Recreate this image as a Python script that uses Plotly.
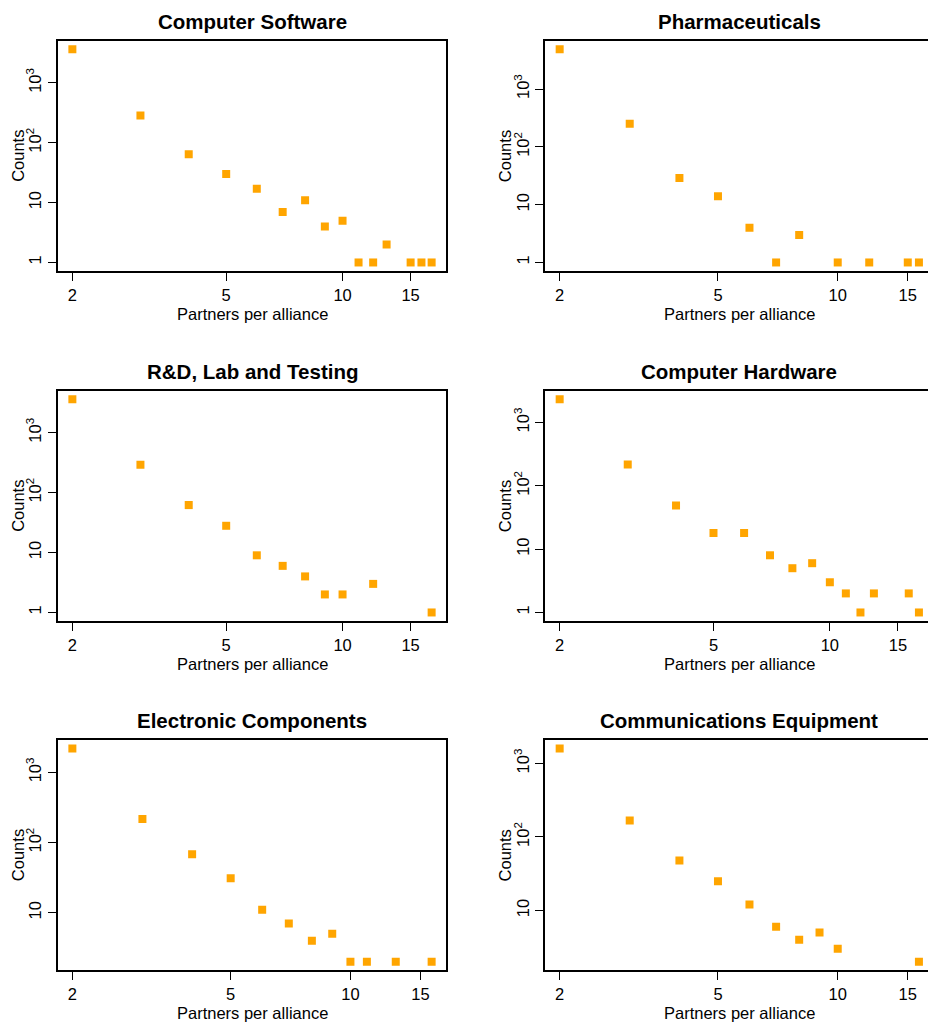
import math
import plotly.graph_objects as go

# ---- data ----
titles = ["Computer Software", "Pharmaceuticals", "R&D, Lab and Testing",
          "Computer Hardware", "Electronic Components", "Communications Equipment"]

cs_x = [2, 3, 4, 5, 6, 7, 8, 9, 10, 11, 12, 13, 15, 16, 17]
cs_y = [3650, 286, 64, 30, 17, 7, 11, 4, 5, 1, 1, 2, 1, 1, 1]

ph_x = [2, 3, 4, 5, 6, 7, 8, 10, 12, 15, 16]
ph_y = [4900, 251, 29, 14, 4, 1, 3, 1, 1, 1, 1]

rd_x = [2, 3, 4, 5, 6, 7, 8, 9, 10, 12, 17]
rd_y = [3630, 293, 62, 28, 9, 6, 4, 2, 2, 3, 1]

hw_x = [2, 3, 4, 5, 6, 7, 8, 9, 10, 11, 12, 13, 16, 17]
hw_y = [2330, 218, 49, 18, 18, 8, 5, 6, 3, 2, 1, 2, 2, 1]

ec_x = [2, 3, 4, 5, 6, 7, 8, 9, 10, 11, 13, 16]
ec_y = [2190, 217, 68, 31, 11, 7, 4, 5, 2, 2, 2, 2]

ce_x = [2, 3, 4, 5, 6, 7, 8, 9, 10, 16]
ce_y = [1600, 168, 48, 25, 12, 6, 4, 5, 3, 2]

x_tickvals = [2, 5, 10, 15]
x_ticktext = ["2", "5", "10", "15"]
y_tickvals = [1, 10, 100, 1000]
y_ticktext = ["1", "10", "10<sup>2</sup>", "10<sup>3</sup>"]

series = [(cs_x, cs_y), (ph_x, ph_y), (rd_x, rd_y),
          (hw_x, hw_y), (ec_x, ec_y), (ce_x, ce_y)]

# ---- layout geometry (pixels) ----
W, H = 928, 1023
col_box = [(58.0, 446.0), (545.3, 933.3)]
row_box = [(40.7, 271.0), (390.7, 621.0), (740.0, 970.3)]
FONT = "Liberation Sans, Arial, Helvetica, sans-serif"
BASE = 16.5
TITLE = 20.5
ORANGE = "#FFA500"


def r_range(vals):
    lo, hi = math.log10(min(vals)), math.log10(max(vals))
    d = hi - lo
    return lo - 0.04 * d, hi + 0.04 * d


fig = go.Figure()
annotations = []

for i, ((xs, ys), title) in enumerate(zip(series, titles)):
    row, col = divmod(i, 2)
    x0, x1 = col_box[col]
    yt, yb = row_box[row]
    ax = "" if i == 0 else str(i + 1)

    xlo, xhi = r_range(xs)
    right_px = min(x1, W)
    xhi_vis = xlo + (xhi - xlo) * (right_px - x0) / (x1 - x0)
    ylo, yhi = r_range(ys)

    fig.add_trace(go.Scatter(
        x=xs, y=ys, mode="markers",
        marker=dict(symbol="square", size=8, color=ORANGE, line=dict(width=0)),
        xaxis="x" + ax, yaxis="y" + ax, showlegend=False, hoverinfo="x+y"))

    fig.update_layout(**{
        "xaxis" + ax: dict(
            type="log", range=[xlo, xhi_vis],
            domain=[x0 / W, right_px / W], anchor="y" + ax,
            tickvals=x_tickvals, ticktext=x_ticktext,
            showline=True, linecolor="black", linewidth=2, mirror=True,
            ticks="outside", ticklen=8, tickwidth=1.2, tickcolor="black",
            showgrid=False, zeroline=False,
            tickfont=dict(family=FONT, size=BASE, color="black")),
        "yaxis" + ax: dict(
            type="log", range=[ylo, yhi],
            domain=[1 - yb / H, 1 - yt / H], anchor="x" + ax,
            tickvals=y_tickvals, ticktext=y_ticktext, tickangle=-90,
            showline=True, linecolor="black", linewidth=2,
            mirror=(col == 0),
            ticks="outside", ticklen=8, tickwidth=1.2, tickcolor="black",
            showgrid=False, zeroline=False,
            tickfont=dict(family=FONT, size=BASE, color="black")),
    })

    cx = (x0 + x1) / 2
    cy = (yt + yb) / 2
    annotations.append(dict(
        text="<b>" + title.replace("&", "&amp;") + "</b>", x=cx / W,
        y=1 - (yt - 19.5) / H,
        xref="paper", yref="paper", xanchor="center", yanchor="middle",
        showarrow=False, font=dict(family=FONT, size=TITLE, color="black")))
    annotations.append(dict(
        text="Partners per alliance", x=cx / W, y=1 - (yb + 43) / H,
        xref="paper", yref="paper", xanchor="center", yanchor="middle",
        showarrow=False, font=dict(family=FONT, size=BASE, color="black")))
    annotations.append(dict(
        text="Counts", x=(x0 - 40) / W, y=1 - cy / H, textangle=-90,
        xref="paper", yref="paper", xanchor="center", yanchor="middle",
        showarrow=False, font=dict(family=FONT, size=BASE, color="black")))

fig.update_layout(
    width=W, height=H,
    margin=dict(l=0, r=0, t=0, b=0),
    paper_bgcolor="white", plot_bgcolor="white",
    annotations=annotations,
    font=dict(family=FONT, size=BASE, color="black"),
)

fig.write_html("out.html")
